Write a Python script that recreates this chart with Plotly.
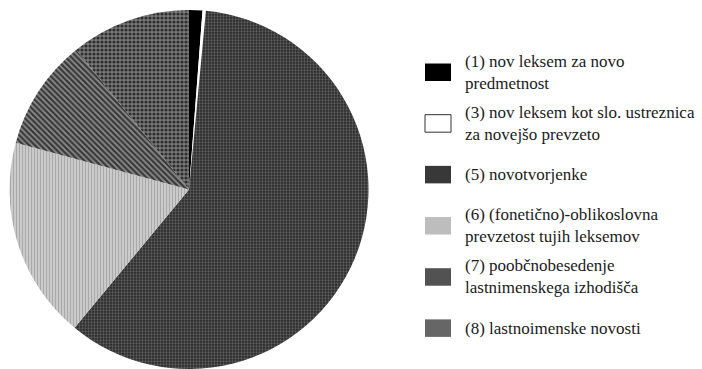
import plotly.graph_objects as go

# Category names (full) and their two-line legend form
categories = [
    "(1) nov leksem za novo predmetnost",
    "(3) nov leksem kot slo. ustreznica za novejšo prevzeto",
    "(5) novotvorjenke",
    "(6) (fonetično)-oblikoslovna prevzetost tujih leksemov",
    "(7) poobčnobesedenje lastnimenskega izhodišča",
    "(8) lastnoimenske novosti",
]
legend_lines = [
    ["(1) nov leksem za novo", "predmetnost"],
    ["(3) nov leksem kot slo. ustreznica", "za novejšo prevzeto"],
    ["(5) novotvorjenke"],
    ["(6) (fonetično)-oblikoslovna", "prevzetost tujih leksemov"],
    ["(7) poobčnobesedenje", "lastnimenskega izhodišča"],
    ["(8) lastnoimenske novosti"],
]
# Share of each category (%)
shares = [1.2, 0.3, 59.5, 18.2, 10.0, 10.8]

# Fill styles: base colour, pattern colour, pattern shape
base_colors = ["#000000", "#ffffff", "#2a2a2a", "#cacaca", "#383838", "#7a7a7a"]
pattern_colors = ["#000000", "#ffffff", "#5e5e5e", "#a9a9a9", "#8e8e8e", "#2e2e2e"]
pattern_shapes = ["", "", ".", "|", "\\", "."]
pattern_sizes = [6, 6, 3, 3, 4, 4]
pattern_solid = [0.3, 0.3, 0.45, 0.35, 0.45, 0.5]
swatch_colors = ["#000000", "#ffffff", "#383838", "#bdbdbd", "#525252", "#666666"]

W, H = 702, 369
FONT = "Liberation Serif, DejaVu Serif, serif"

fig = go.Figure(
    go.Pie(
        labels=categories,
        values=shares,
        sort=False,
        direction="clockwise",
        rotation=0,
        textinfo="none",
        showlegend=False,
        domain=dict(x=[0.0, 378 / W], y=[0.0, 1.0]),
        marker=dict(
            colors=base_colors,
            line=dict(width=0),
            pattern=dict(
                shape=pattern_shapes,
                fgcolor=pattern_colors,
                bgcolor=base_colors,
                size=pattern_sizes,
                solidity=pattern_solid,
                fillmode="replace",
            ),
        ),
    )
)

# Hand-laid legend on the right: swatch + a (possibly two-line) label
first_center = 64.0
step = 52.6
sw_x0, sw_x1, sw_h = 425, 451, 18
text_x = 463

shapes = []
annotations = []
for i, lines in enumerate(legend_lines):
    cy = first_center + step * i
    shapes.append(dict(
        type="rect", xref="paper", yref="paper",
        x0=sw_x0 / W, x1=sw_x1 / W,
        y0=1 - (cy + sw_h / 2) / H, y1=1 - (cy - sw_h / 2) / H,
        fillcolor=swatch_colors[i],
        line=dict(color="#333333", width=1 if base_colors[i] == "#ffffff" else 0),
    ))
    annotations.append(dict(
        x=text_x / W, y=1 - cy / H, xref="paper", yref="paper",
        xanchor="left", yanchor="middle", align="left", showarrow=False,
        text="<br>".join(lines),
        font=dict(family=FONT, size=17, color="#1a1a1a"),
    ))

fig.update_layout(
    width=W, height=H,
    margin=dict(l=0, r=0, t=10, b=0),
    paper_bgcolor="white",
    plot_bgcolor="white",
    shapes=shapes,
    annotations=annotations,
)

fig.write_html("out.html")
